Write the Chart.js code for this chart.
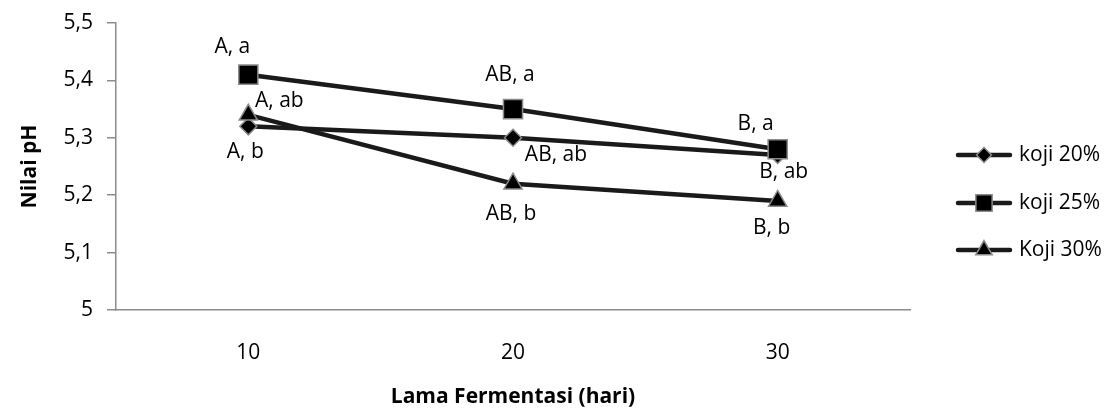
<!DOCTYPE html>
<html>
<head>
<meta charset="utf-8">
<script src="https://cdn.jsdelivr.net/npm/chart.js@4/dist/chart.umd.min.js"></script>
<style>
  html, body { margin: 0; padding: 0; background: #fff; }
  #wrap { width: 1118px; height: 414px; }
</style>
</head>
<body>
<div id="wrap"><canvas id="c" width="1118" height="414"></canvas></div>
<script>
const categories = ['10', '20', '30'];
const koji20 = [5.32, 5.30, 5.27];
const koji25 = [5.41, 5.35, 5.28];
const koji30 = [5.34, 5.22, 5.19];
const labels20 = ['A, b', 'AB, ab', 'B, ab'];
const labels25 = ['A, a', 'AB, a', 'B, a'];
const labels30 = ['A, ab', 'AB, b', 'B, b'];
const seriesNames = ['koji 20%', 'koji 25%', 'Koji 30%'];

const FONT = "'Open Sans', 'DejaVu Sans', sans-serif";
const FS = 21;
const LINE = '#1a1a1a';
const EDGE = '#8a8a8a';

// where each annotation sits relative to its point (px)
const labelOffsets = [
  [[-3, 26], [43, 17], [6, 17]],
  [[-16, -28], [-3, -34], [-22, -25]],
  [[31, -14], [-2, 30], [-6, 27]]
];
const pointLabels = [labels20, labels25, labels30];

const pointLabelPlugin = {
  id: 'pointLabels',
  afterDatasetsDraw(chart) {
    const ctx = chart.ctx;
    ctx.save();
    ctx.font = FS + 'px ' + FONT;
    ctx.fillStyle = '#000';
    ctx.textAlign = 'center';
    ctx.textBaseline = 'middle';
    chart.data.datasets.forEach((ds, i) => {
      chart.getDatasetMeta(i).data.forEach((pt, j) => {
        const [dx, dy] = labelOffsets[i][j];
        ctx.fillText(pointLabels[i][j], pt.x + dx, pt.y + dy);
      });
    });
    ctx.restore();
  }
};

const legendPlugin = {
  id: 'sideLegend',
  afterDraw(chart) {
    const ctx = chart.ctx;
    const x0 = 958, x1 = 1010, ys = [155, 203, 250];
    const radii = [7.5, 11.5, 9.5];
    ctx.save();
    chart.data.datasets.forEach((ds, i) => {
      const y = ys[i];
      ctx.strokeStyle = LINE;
      ctx.lineWidth = 4.5;
      ctx.lineCap = 'round';
      ctx.beginPath(); ctx.moveTo(x0, y); ctx.lineTo(x1, y); ctx.stroke();
      ctx.fillStyle = '#000';
      ctx.strokeStyle = EDGE;
      ctx.lineWidth = 1.5;
      Chart.helpers.drawPoint(ctx, { pointStyle: ds.pointStyle, radius: radii[i], borderWidth: 1.5 }, (x0 + x1) / 2, y);
      ctx.fillStyle = '#000';
      ctx.font = FS + 'px ' + FONT;
      ctx.textAlign = 'left';
      ctx.textBaseline = 'middle';
      ctx.fillText(ds.label, 1019, y);
    });
    ctx.restore();
  }
};

function series(label, data, style, radius, order) {
  return {
    label, data, order,
    borderColor: LINE, borderWidth: 4.5, tension: 0,
    pointStyle: style, pointRadius: radius, pointHoverRadius: radius,
    pointBackgroundColor: '#000', pointBorderColor: EDGE, pointBorderWidth: 1.5
  };
}

new Chart(document.getElementById('c'), {
  type: 'line',
  data: {
    labels: categories,
    datasets: [
      series(seriesNames[0], koji20, 'rectRot', 8.5, 3),
      series(seriesNames[1], koji25, 'rect', 13.5, 2),
      series(seriesNames[2], koji30, 'triangle', 10.5, 1)
    ]
  },
  options: {
    responsive: false,
    animation: false,
    layout: { padding: { left: 0, right: 208, top: 23, bottom: 0 } },
    plugins: { legend: { display: false }, tooltip: { enabled: false } },
    scales: {
      x: {
        offset: true,
        grid: { display: false, drawTicks: false },
        border: { color: '#8c8c8c', width: 1.5 },
        ticks: { color: '#000', font: { family: FONT, size: FS }, padding: 30 },
        title: { display: true, text: 'Lama Fermentasi (hari)', color: '#000', font: { family: FONT, size: 21, weight: 'bold' }, padding: { top: 0, bottom: 4 } },
        afterFit: s => { s.height = 104; s.paddingLeft = 0; s.paddingRight = 0; }
      },
      y: {
        min: 5, max: 5.5,
        grid: { drawOnChartArea: false, drawTicks: true, tickLength: 9, color: '#8c8c8c', lineWidth: 1.5 },
        border: { color: '#8c8c8c', width: 1.5 },
        ticks: {
          stepSize: 0.1, color: '#000', font: { family: FONT, size: FS }, padding: 14,
          callback: v => String(Math.round(v * 10) / 10).replace('.', ',')
        },
        title: { display: true, text: 'Nilai pH', color: '#000', font: { family: FONT, size: 21, weight: 'bold' }, padding: { top: 17, bottom: 0 } },
        afterFit: s => { s.width = 116; s.paddingTop = 0; s.paddingBottom = 0; }
      }
    }
  },
  plugins: [pointLabelPlugin, legendPlugin]
});
</script>
</body>
</html>
